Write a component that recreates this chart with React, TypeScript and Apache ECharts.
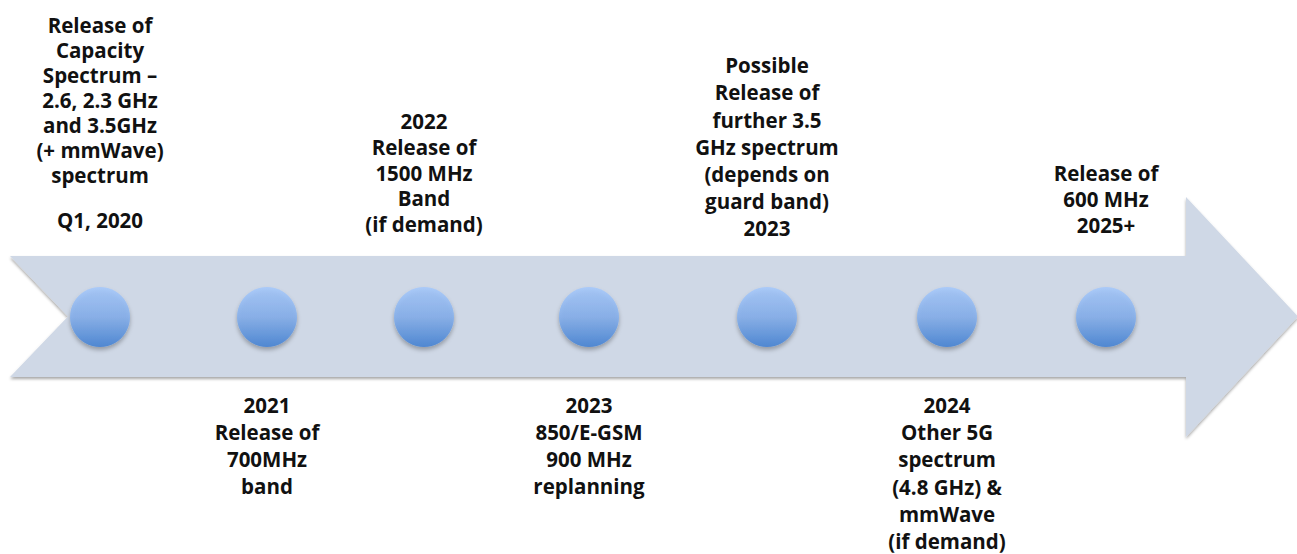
import React, { useEffect, useRef } from "react";
import * as echarts from "echarts";

// Timeline events: position along the timeline axis, label text and side
const eventPos = [100, 267, 424, 589, 767, 947, 1106];
const eventSide = ["top", "bottom", "top", "bottom", "top", "bottom", "top"];
const eventText = [
  "Release of\nCapacity\nSpectrum –\n2.6, 2.3 GHz\nand 3.5GHz\n(+ mmWave)\nspectrum\n{q|Q1, 2020}",
  "2021\nRelease of\n700MHz\nband",
  "2022\nRelease of\n1500 MHz\nBand\n(if demand)",
  "2023\n850/E-GSM\n900 MHz\nreplanning",
  "Possible\nRelease of\nfurther 3.5\nGHz spectrum\n(depends on\nguard band)\n2023",
  "2024\nOther 5G\nspectrum\n(4.8 GHz) &\nmmWave\n(if demand)",
  "Release of\n600 MHz\n2025+",
];

// Layout (styles, kept apart from the data above)
const eventLineHeight = [25, 27.2, 25.8, 27, 27.2, 27.3, 26];
const eventLabelShift = [15, -1, 0, -1, 5, -1, 1];
const arrowStart = 10;
const arrowNotch = 68;
const arrowHeadStart = 1186;
const arrowTip = 1298;
const shaftTop = 256;
const shaftBottom = 377;
const headTop = 197;
const headBottom = 437;
const timelineY = 317;
const upperLabelBottom = 237;
const lowerLabelTop = 392;

export default function App() {
  const ref = useRef<HTMLDivElement>(null);
  useEffect(() => {
    document.body.style.margin = "0";
    const chart = echarts.init(ref.current!, null, { renderer: "svg" });
    const midY = (shaftTop + shaftBottom) / 2;
    const option: any = {
      animation: false,
      backgroundColor: "#ffffff",
      grid: { left: 0, right: 0, top: 0, bottom: 0 },
      xAxis: { type: "value", min: 0, max: 1297, show: false },
      yAxis: { type: "value", min: 0, max: 554, inverse: true, show: false },
      series: [
        {
          type: "custom",
          silent: true,
          data: [[0]],
          z: 1,
          renderItem: (params: any, api: any) => {
            const pts = [
              [arrowStart, shaftTop],
              [arrowHeadStart, shaftTop],
              [arrowHeadStart, headTop],
              [arrowTip, midY],
              [arrowHeadStart, headBottom],
              [arrowHeadStart, shaftBottom],
              [arrowStart, shaftBottom],
              [arrowNotch, midY],
            ].map((p) => api.coord(p));
            return {
              type: "polygon",
              shape: { points: pts },
              style: {
                fill: "#cfd8e6",
                shadowBlur: 3,
                shadowOffsetY: 2,
                shadowColor: "rgba(0,0,0,0.35)",
              },
            };
          },
        },
        {
          type: "scatter",
          z: 3,
          silent: true,
          symbol: "circle",
          symbolSize: 60,
          data: eventPos.map((x) => [x, timelineY]),
          itemStyle: {
            color: new echarts.graphic.LinearGradient(0, 0, 0, 1, [
              { offset: 0, color: "#a2c7fd" },
              { offset: 0.5, color: "#80aded" },
              { offset: 1, color: "#3b7dd4" },
            ]),
            shadowBlur: 4,
            shadowOffsetY: 3,
            shadowColor: "rgba(0,0,0,0.35)",
          },
        },
        {
          type: "custom",
          silent: true,
          z: 4,
          data: eventPos.map((x, i) => [x, i]),
          renderItem: (params: any, api: any) => {
            const i = api.value(1);
            const top = eventSide[i] === "top";
            const lh = eventLineHeight[i];
            const p = api.coord([
              api.value(0),
              (top ? upperLabelBottom : lowerLabelTop) + eventLabelShift[i],
            ]);
            return {
              type: "text",
              x: p[0],
              y: p[1],
              style: {
                text: eventText[i],
                fontFamily: "'Open Sans', sans-serif",
                fontWeight: "bold",
                fontSize: 20.5,
                lineHeight: lh,
                fill: "#111111",
                align: "center",
                verticalAlign: top ? "bottom" : "top",
                rich: {
                  q: {
                    fontFamily: "'Open Sans', sans-serif",
                    fontWeight: "bold",
                    fontSize: 20.5,
                    lineHeight: 65,
                    fill: "#111111",
                  },
                },
              },
            };
          },
        },
      ],
    };
    chart.setOption(option);
    return () => chart.dispose();
  }, []);
  return <div ref={ref} style={{ width: 1297, height: 554 }} />;
}
